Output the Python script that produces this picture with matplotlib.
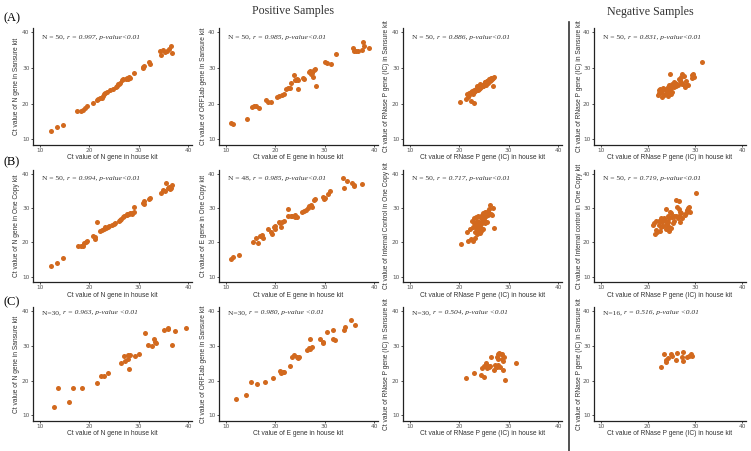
import matplotlib
matplotlib.use('Agg')
import matplotlib.pyplot as plt
from matplotlib.lines import Line2D

# ---- data (x = house kit Ct, y = comparison kit Ct) ----
a1_x = [12.2, 13.5, 14.6, 17.6, 18.3, 18.8, 19.1, 19.6, 20.8, 21.5, 22.1, 22.5, 23.0, 23.5, 24.2,
        24.8, 25.4, 25.9, 26.3, 26.6, 27.5, 28.0, 28.3, 29.0, 30.9, 31.1, 32.1, 32.2, 34.4, 34.6,
        35.3, 35.7, 36.1, 36.5, 36.7, 22.8, 23.2, 25.6, 26.0, 27.7, 27.9, 30.8, 26.9, 21.8, 35.0]
a1_y = [12.3, 13.4, 13.9, 18.0, 18.0, 18.2, 18.8, 19.3, 20.2, 21.1, 21.7, 21.6, 22.6, 23.2, 23.8,
        24.0, 24.7, 25.4, 25.8, 26.6, 27.0, 27.4, 27.1, 28.7, 30.2, 30.5, 31.6, 31.1, 34.8, 33.6,
        34.4, 34.8, 35.3, 36.2, 34.1, 22.0, 22.9, 25.0, 25.6, 27.2, 26.8, 29.9, 26.9, 21.3, 34.9]

a2_x = [11.0, 11.5, 14.2, 15.2, 15.6, 16.1, 16.6, 18.1, 18.5, 19.2, 20.3, 20.8, 21.3, 21.7, 22.2,
        22.5, 22.9, 23.2, 23.8, 23.9, 24.2, 24.4, 24.6, 24.6, 25.6, 25.9, 26.8, 27.0, 27.3, 27.5,
        27.8, 28.1, 27.6, 28.2, 30.1, 30.5, 31.2, 32.2, 35.7, 36.0, 36.4, 36.7, 37.6, 37.8, 37.9, 39.0]
a2_y = [14.6, 14.2, 15.8, 19.1, 19.3, 19.3, 18.9, 21.0, 20.5, 20.5, 21.9, 22.1, 22.4, 22.7, 24.0,
        24.3, 24.5, 25.7, 28.0, 26.6, 26.6, 26.8, 26.7, 24.0, 27.1, 26.8, 28.9, 29.2, 28.2, 28.7,
        29.4, 29.6, 27.6, 24.9, 31.7, 31.5, 31.0, 33.8, 35.5, 34.8, 34.8, 34.8, 35.0, 37.4, 36.1, 35.7]

a3_x = [20.1, 21.4, 21.7, 21.9, 21.6, 22.4, 22.9, 22.0, 22.3, 22.6, 22.9, 22.5, 23.0, 23.3, 23.6,
        23.2, 23.9, 23.5, 23.8, 24.3, 24.1, 24.6, 24.4, 24.8, 24.2, 25.0, 25.3, 25.1, 25.5, 25.6,
        25.2, 25.7, 26.0, 25.9, 26.3, 26.1, 26.4, 26.7, 27.0, 26.6, 26.9, 26.8, 24.0, 23.4, 25.4,
        22.7, 24.7, 25.8, 26.2, 26.5]
a3_y = [20.5, 21.4, 21.9, 22.4, 22.8, 20.6, 20.2, 23.0, 23.2, 23.5, 23.8, 22.9, 23.3, 24.2, 24.2,
        23.6, 24.7, 24.8, 23.9, 25.0, 24.4, 25.3, 24.6, 25.0, 25.4, 25.6, 26.1, 25.2, 25.7, 26.3,
        26.0, 26.3, 26.8, 26.2, 27.0, 26.6, 26.5, 27.3, 27.5, 26.9, 27.2, 25.0, 24.0, 23.9, 25.3,
        22.6, 24.9, 25.9, 26.4, 27.1]

a4_x = [31.4, 24.7, 27.3, 27.7, 27.1, 29.4, 29.8, 29.3, 26.6, 26.9, 25.2, 25.8, 25.6, 24.5, 24.9,
        24.2, 26.1, 27.2, 27.5, 28.2, 27.8, 22.4, 22.7, 22.3, 23.1, 23.5, 23.8, 23.0, 23.5, 23.8,
        24.5, 24.9, 25.2, 24.2, 22.2, 23.0, 24.0, 24.6, 25.0, 25.5, 26.0, 26.4, 23.3, 22.5, 27.0,
        28.0, 29.5, 28.6]
a4_y = [31.6, 28.4, 28.4, 27.7, 27.5, 28.0, 27.5, 27.3, 27.0, 26.6, 25.6, 25.8, 26.1, 25.2, 24.9,
        24.7, 25.6, 25.6, 25.4, 25.2, 24.7, 23.8, 23.3, 23.0, 23.8, 24.0, 23.8, 21.9, 22.4, 22.8,
        23.0, 22.6, 23.3, 22.1, 22.5, 23.1, 23.5, 24.0, 24.3, 24.6, 24.9, 25.3, 24.3, 24.0, 26.0,
        26.3, 28.4, 25.3]

b1_x = [12.2, 13.4, 14.6, 17.7, 18.4, 18.7, 19.0, 19.3, 19.6, 20.7, 21.1, 21.2, 21.6, 22.2, 22.6,
        22.9, 23.1, 23.4, 23.8, 23.9, 24.5, 25.0, 25.3, 26.0, 26.3, 26.5, 26.8, 27.0, 27.7, 28.0,
        28.2, 28.6, 28.7, 29.0, 30.8, 31.0, 31.1, 32.1, 32.3, 34.6, 34.9, 35.3, 35.6, 35.9, 36.2,
        36.5, 36.7, 36.4, 27.6, 29.0]
b1_y = [13.2, 14.0, 15.4, 18.8, 18.8, 18.8, 19.8, 20.1, 20.4, 21.8, 21.6, 21.0, 26.0, 23.3, 23.6,
        23.8, 24.4, 24.1, 24.6, 24.8, 25.0, 25.3, 25.6, 26.3, 26.6, 26.9, 27.4, 27.6, 28.0, 28.2,
        28.5, 28.3, 28.7, 28.9, 31.6, 31.2, 32.2, 32.6, 33.1, 34.6, 35.2, 35.0, 37.4, 35.9, 36.3,
        36.0, 36.8, 35.6, 28.3, 30.3]

b2_x = [11.0, 11.5, 12.6, 15.5, 16.0, 16.4, 16.9, 17.4, 17.6, 18.6, 19.2, 19.3, 19.7, 19.9, 19.9,
        20.7, 21.0, 21.2, 21.4, 21.7, 22.6, 22.6, 23.1, 23.4, 23.9, 24.0, 24.4, 25.5, 25.9, 26.2,
        26.6, 26.9, 27.2, 27.4, 27.9, 28.1, 29.7, 29.8, 30.0, 30.7, 31.0, 33.8, 34.5, 33.9, 35.5,
        35.9, 36.0, 37.6]
b2_y = [15.2, 15.7, 16.4, 20.0, 21.2, 19.9, 22.0, 22.3, 21.2, 23.9, 23.1, 22.5, 24.5, 24.8, 24.0,
        25.9, 25.7, 24.5, 26.1, 26.4, 29.8, 27.6, 27.7, 27.8, 27.4, 27.9, 27.5, 29.0, 29.2, 29.5,
        30.0, 30.7, 31.0, 30.3, 32.4, 32.7, 33.3, 32.7, 33.1, 34.1, 35.1, 39.0, 37.9, 35.8, 37.5,
        36.8, 36.4, 37.2]

b3_x = [20.3, 21.7, 21.6, 22.1, 22.7, 23.1, 23.3, 22.9, 22.6, 23.5, 23.7, 23.3, 23.7, 23.6, 24.0,
        24.3, 23.5, 24.4, 24.8, 25.3, 25.7, 24.6, 24.9, 25.3, 25.5, 25.8, 26.3, 26.9, 27.0, 24.2,
        22.9, 26.1, 25.9, 24.1, 23.9, 24.6, 25.1, 23.2, 24.5, 25.9, 26.4, 22.8, 24.2, 25.5, 23.4,
        24.7, 26.6, 25.0, 23.8, 22.3]
b3_y = [19.4, 20.5, 22.9, 23.9, 20.4, 21.2, 24.3, 25.6, 26.3, 26.3, 25.1, 27.4, 27.6, 23.1, 23.6,
        23.3, 22.6, 25.3, 26.3, 25.7, 25.9, 28.0, 28.5, 29.0, 28.2, 28.8, 31.0, 30.0, 24.3, 27.3,
        27.1, 29.8, 29.2, 24.6, 26.0, 26.8, 27.2, 23.0, 24.0, 27.9, 28.4, 24.4, 22.8, 27.6, 25.2,
        23.9, 28.1, 26.6, 24.8, 21.0]

b4_x = [30.2, 25.9, 26.6, 23.8, 24.7, 24.9, 26.1, 26.6, 26.9, 27.1, 28.1, 28.3, 28.8, 27.9, 24.2,
        24.5, 25.2, 25.6, 25.9, 26.3, 26.6, 27.2, 26.9, 22.8, 23.1, 23.5, 23.8, 24.2, 23.1, 22.4,
        21.4, 21.7, 21.2, 22.3, 22.8, 23.3, 23.8, 24.5, 24.9, 21.7, 22.0, 23.8, 24.4, 21.6, 22.5,
        25.3, 28.6, 29.0, 24.0, 25.5]
b4_y = [34.4, 32.3, 32.1, 29.7, 29.0, 28.5, 30.3, 29.7, 29.0, 28.5, 28.5, 29.5, 30.5, 28.0, 27.6,
        27.1, 27.4, 27.6, 27.6, 27.1, 27.6, 27.1, 26.1, 27.1, 26.8, 27.1, 26.4, 26.1, 26.1, 26.4,
        25.8, 26.4, 25.1, 25.1, 24.6, 24.8, 25.1, 24.6, 24.1, 23.6, 22.9, 23.8, 23.4, 22.4, 23.2,
        25.6, 30.0, 28.8, 25.5, 26.3]

c1_x = [12.8, 13.7, 15.8, 16.6, 18.6, 21.5, 22.3, 23.0, 23.7, 26.5, 27.0, 27.3, 27.9, 27.9, 28.3,
        28.1, 29.3, 30.1, 31.3, 31.8, 32.8, 33.1, 33.3, 33.5, 35.1, 35.9, 35.9, 36.7, 37.3, 39.6]
c1_y = [12.4, 18.0, 14.0, 18.0, 18.0, 19.4, 21.4, 21.3, 22.1, 25.2, 27.2, 25.7, 26.2, 27.3, 27.3,
        23.5, 27.1, 27.8, 33.7, 30.2, 30.1, 31.9, 31.2, 30.8, 34.5, 35.2, 34.8, 30.4, 34.3, 35.2]

c2_x = [12.1, 14.1, 15.1, 16.3, 17.9, 19.5, 21.0, 21.2, 21.5, 21.8, 22.9, 23.4, 23.8, 24.3, 24.5,
        24.9, 26.5, 26.9, 27.1, 27.5, 27.1, 29.1, 29.6, 29.7, 30.4, 31.6, 31.7, 32.1, 33.9, 34.2,
        35.4, 36.2]
c2_y = [14.6, 15.8, 19.5, 19.1, 19.5, 20.7, 22.7, 22.2, 22.4, 22.5, 24.2, 26.8, 27.3, 26.9, 26.6,
        26.9, 28.7, 29.4, 29.2, 29.7, 32.0, 32.0, 31.2, 30.7, 33.9, 34.6, 32.0, 31.7, 34.6, 35.4,
        37.4, 35.9]

c3_x = [21.4, 23.0, 24.3, 25.1, 24.6, 25.1, 25.5, 25.6, 26.0, 26.3, 27.0, 26.5, 27.4, 27.7, 27.9,
        28.3, 27.6, 27.9, 27.9, 28.1, 28.4, 28.6, 28.8, 29.0, 28.6, 28.8, 29.3, 31.5, 25.8, 27.2]
c3_y = [20.7, 22.1, 21.6, 21.0, 23.7, 24.3, 25.2, 23.7, 24.0, 24.3, 23.1, 26.9, 24.3, 24.0, 24.5,
        24.0, 26.9, 26.2, 27.8, 28.1, 27.6, 26.2, 25.7, 26.9, 27.8, 23.1, 20.3, 25.2, 24.1, 24.4]

c4_x = [22.7, 23.4, 23.8, 23.9, 24.2, 24.9, 25.1, 26.2, 26.0, 27.2, 27.5, 27.5, 28.4, 28.8, 29.2, 29.4]
c4_y = [23.8, 27.7, 25.9, 25.5, 26.4, 27.6, 27.2, 27.9, 25.9, 26.7, 28.3, 25.7, 26.9, 27.0, 27.8, 27.1]

xlab_n = 'Ct value of N gene in house kit'
xlab_e = 'Ct value of E gene in house kit'
xlab_rp = 'Ct value of RNase P gene (IC) in house kit'

panels = [
    # row A
    [(a1_x, a1_y, xlab_n, 'Ct value of N gene in Sansure kit', 'N = 50, ', 'r = 0.997, p-value<0.01'),
     (a2_x, a2_y, xlab_e, 'Ct value of ORF1ab gene in Sansure kit', 'N = 50, ', 'r = 0.985, p-value<0.01'),
     (a3_x, a3_y, xlab_rp, 'Ct value of RNase P gene (IC) in Sansure kit', 'N = 50, ', 'r = 0.886, p-value<0.01'),
     (a4_x, a4_y, xlab_rp, 'Ct value of RNase P gene (IC) in Sansure kit', 'N = 50, ', 'r = 0.831, p-value<0.01')],
    # row B
    [(b1_x, b1_y, xlab_n, 'Ct value of N gene in One Copy kit', 'N = 50, ', 'r = 0.994, p-value<0.01'),
     (b2_x, b2_y, xlab_e, 'Ct value of E gene in One Copy kit', 'N = 48, ', 'r = 0.985, p-value<0.01'),
     (b3_x, b3_y, xlab_rp, 'Ct value of Internal Control in One Copy kit', 'N = 50, ', 'r = 0.717, p-value<0.01'),
     (b4_x, b4_y, xlab_rp, 'Ct value of Internal control in One Copy kit', 'N = 50, ', 'r = 0.719, p-value<0.01')],
    # row C
    [(c1_x, c1_y, xlab_n, 'Ct value of N gene in Sansure kit', 'N=30, ', 'r = 0.963, p-value <0.01'),
     (c2_x, c2_y, xlab_e, 'Ct value of ORF1ab gene in Sansure kit', 'N=30, ', 'r = 0.980, p-value <0.01'),
     (c3_x, c3_y, xlab_rp, 'Ct value of RNase P gene (IC) in Sansure kit', 'N=30, ', 'r = 0.504, p-value <0.01'),
     (c4_x, c4_y, xlab_rp, 'Ct value of RNase P gene (IC) in Sansure kit', 'N=16, ', 'r = 0.516, p-value <0.01')],
]
row_tags = ['(A)', '(B)', '(C)']

# ---- layout in pixels ----
W, H = 751, 451
col_left = [33, 219, 403, 594]
col_width = [159, 159, 159, 152]
row_top = [28, 170, 307]
row_bottom = [145, 282, 421]
tag_y = [18, 162, 302]
ann_y = [38.6, 38.8, 39.6]
ylab_gap = [13, 12, 13, 11]    # px from spine to right edge of y label
xlab_gap = [9, 10, 9]          # px from spine to top of x label

DOT = '#D2691E'
SANS = 'Liberation Sans'
SERIF = 'Liberation Serif'

fig = plt.figure(figsize=(W / 100, H / 100), dpi=100)

for r, row in enumerate(panels):
    h_px = row_bottom[r] - row_top[r]
    for c, (xs, ys, xl, yl, n_txt, st_txt) in enumerate(row):
        ax = fig.add_axes([col_left[c] / W, 1 - row_bottom[r] / H,
                           col_width[c] / W, h_px / H])
        ax.scatter(xs, ys, s=13, color=DOT, linewidths=0, zorder=3)
        ax.set_xlim(8.6, 40.8)
        ax.set_ylim(8.4, 41.2)
        ax.set_xticks([10, 20, 30, 40])
        ax.set_yticks([10, 20, 30, 40])
        for side in ['top', 'right']:
            ax.spines[side].set_visible(False)
        for side in ['left', 'bottom']:
            ax.spines[side].set_linewidth(0.9)
            ax.spines[side].set_color('#222222')
        ax.tick_params(length=1.5, width=0.6, color='#333333', labelsize=4.2,
                       labelcolor='#555555', pad=1)
        ax.set_xlabel(xl, fontsize=4.8, family=SANS, color='#333333')
        ax.set_ylabel(yl, fontsize=4.8, family=SANS, color='#333333')
        ax.xaxis.set_label_coords(0.5, -xlab_gap[r] / h_px)
        ax.yaxis.set_label_coords(-ylab_gap[c] / col_width[c], 0.5)
        t = ax.text(10.5, ann_y[r], n_txt, family=SERIF, fontsize=5.4, va='center', color='#333333')
        ax.annotate(st_txt, xy=(1, 0.5), xycoords=t, va='center', family=SERIF,
                    style='italic', fontsize=5.4, color='#333333')
    fig.text(3 / W, 1 - tag_y[r] / H, row_tags[r], family=SERIF, fontsize=9,
             ha='left', va='center')

fig.text(293 / W, 1 - 11 / H, 'Positive Samples', family=SERIF, fontsize=8.6,
         ha='center', va='center', color='#333333')
fig.text(650 / W, 1 - 12 / H, 'Negative Samples', family=SERIF, fontsize=8.6,
         ha='center', va='center', color='#333333')
fig.add_artist(Line2D([569 / W, 569 / W], [1 - 22 / H, 0], color='#333333', lw=1.2))

fig.savefig('out.png', dpi=100)
